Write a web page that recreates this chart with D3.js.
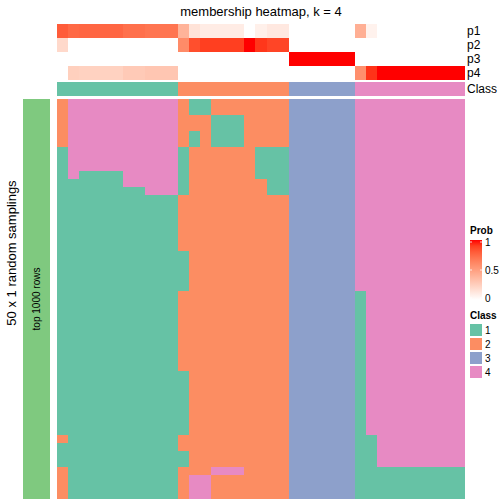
<!DOCTYPE html>
<html><head><meta charset="utf-8">
<script src="https://cdn.jsdelivr.net/npm/d3@7"></script>
<style>body{margin:0;background:#fff}text{font-family:"Liberation Sans",Arial,sans-serif}rect{shape-rendering:crispEdges}</style>
</head><body><svg id="c" width="504" height="504"></svg>
<script>
const classNames = ["1","2","3","4"];
const classColors = ["#66C2A5","#FC8D62","#8DA0CB","#E78AC3"];
const colClass = [1,1,1,1,1,1,1,1,1,1,1, 2,2,2,2,2,2,2,2,2,2, 3,3,3,3,3,3, 4,4,4,4,4,4,4,4,4,4];
const p1 = [0.8,0.75,0.76,0.76,0.76,0.76,0.72,0.72,0.7,0.7,0.7, 0.4,0.15,0.1,0.1,0.1,0.1,0,0.08,0.12,0.12, 0,0,0,0,0,0, 0.42,0.07,0,0,0,0,0,0,0,0];
const p2 = [0.2,0,0,0,0,0,0,0,0,0,0, 0.6,0.85,0.9,0.9,0.9,0.9,1,0.92,0.88,0.88, 0,0,0,0,0,0, 0,0,0,0,0,0,0,0,0,0];
const p3 = [0,0,0,0,0,0,0,0,0,0,0, 0,0,0,0,0,0,0,0,0,0, 1,1,1,1,1,1, 0,0,0,0,0,0,0,0,0,0];
const p4 = [0,0.25,0.24,0.24,0.24,0.24,0.28,0.28,0.3,0.3,0.3, 0,0,0,0,0,0,0,0,0,0, 0,0,0,0,0,0, 0.58,0.93,1,1,1,1,1,1,1,1];
const probRows = ["p1","p2","p3","p4"];
const samplings = [
"24444444444"+"2112222222"+"333333"+"4444444444",
"24444444444"+"2112222222"+"333333"+"4444444444",
"24444444444"+"2221112222"+"333333"+"4444444444",
"24444444444"+"2221112222"+"333333"+"4444444444",
"24444444444"+"2121112222"+"333333"+"4444444444",
"24444444444"+"2121112222"+"333333"+"4444444444",
"14444444444"+"1222222111"+"333333"+"4444444444",
"14444444444"+"1222222111"+"333333"+"4444444444",
"14444444444"+"1222222111"+"333333"+"4444444444",
"14111144444"+"1222222111"+"333333"+"4444444444",
"11111144444"+"1222222211"+"333333"+"4444444444",
"11111111444"+"1222222211"+"333333"+"4444444444",
"11111111111"+"2222222222"+"333333"+"4444444444",
"11111111111"+"2222222222"+"333333"+"4444444444",
"11111111111"+"2222222222"+"333333"+"4444444444",
"11111111111"+"2222222222"+"333333"+"4444444444",
"11111111111"+"2222222222"+"333333"+"4444444444",
"11111111111"+"2222222222"+"333333"+"4444444444",
"11111111111"+"2222222222"+"333333"+"4444444444",
"11111111111"+"1222222222"+"333333"+"4444444444",
"11111111111"+"1222222222"+"333333"+"4444444444",
"11111111111"+"1222222222"+"333333"+"4444444444",
"11111111111"+"1222222222"+"333333"+"4444444444",
"11111111111"+"1222222222"+"333333"+"4444444444",
"11111111111"+"2222222222"+"333333"+"1444444444",
"11111111111"+"2222222222"+"333333"+"1444444444",
"11111111111"+"2222222222"+"333333"+"1444444444",
"11111111111"+"2222222222"+"333333"+"1444444444",
"11111111111"+"2222222222"+"333333"+"1444444444",
"11111111111"+"2222222222"+"333333"+"1444444444",
"11111111111"+"2222222222"+"333333"+"1444444444",
"11111111111"+"2222222222"+"333333"+"1444444444",
"11111111111"+"2222222222"+"333333"+"1444444444",
"11111111111"+"2222222222"+"333333"+"1444444444",
"11111111111"+"1222222222"+"333333"+"1444444444",
"11111111111"+"1222222222"+"333333"+"1444444444",
"11111111111"+"1222222222"+"333333"+"1444444444",
"11111111111"+"1222222222"+"333333"+"1444444444",
"11111111111"+"1222222222"+"333333"+"1444444444",
"11111111111"+"1222222222"+"333333"+"1444444444",
"11111111111"+"1222222222"+"333333"+"1444444444",
"11111111111"+"1222222222"+"333333"+"1444444444",
"21111111111"+"2222222222"+"333333"+"1144444444",
"11111111111"+"2222222222"+"333333"+"1144444444",
"11111111111"+"1222222222"+"333333"+"1144444444",
"11111111111"+"1222222222"+"333333"+"1144444444",
"21111111111"+"2224442222"+"333333"+"1111111111",
"21111111111"+"2442222222"+"333333"+"1111111111",
"21111111111"+"2442222222"+"333333"+"1111111111",
"21111111111"+"2442222222"+"333333"+"1111111111"
];
const legendTicks = [0, 0.5, 1];

const svg = d3.select("#c");
const nCol = colClass.length;
const x = d3.scaleBand().domain(d3.range(nCol)).range([57,465]);
const yP = d3.scaleBand().domain(probRows).range([24,80]);
const yM = d3.scaleBand().domain(d3.range(samplings.length)).range([99,499]);
const probColor = d3.scaleLinear().domain([0,1]).range(["#FFFFFF","#FF0000"]).interpolate(d3.interpolateLab);
const classColor = d3.scaleOrdinal().domain(classNames).range(classColors);
const xw = j => Math.round(x(j)+x.bandwidth()) - Math.round(x(j));

svg.append("text").attr("x",261).attr("y",16).attr("text-anchor","middle").attr("font-size",13).text("membership heatmap, k = 4");

const probData = [p1,p2,p3,p4];
probRows.forEach((r,i)=>{
  svg.append("g").selectAll("rect").data(probData[i]).join("rect")
    .attr("x",(d,j)=>Math.round(x(j))).attr("y",yP(r)).attr("width",(d,j)=>xw(j)).attr("height",yP.bandwidth())
    .attr("fill",d=>probColor(d));
  svg.append("text").attr("x",467).attr("y",yP(r)+yP.bandwidth()/2).attr("dy","0.35em").attr("font-size",12).text(r);
});
svg.append("g").selectAll("rect").data(colClass).join("rect")
  .attr("x",(d,j)=>Math.round(x(j))).attr("y",82).attr("width",(d,j)=>xw(j)).attr("height",14)
  .attr("fill",d=>classColor(String(d)));
svg.append("text").attr("x",467).attr("y",89).attr("dy","0.35em").attr("font-size",12).text("Class");

const cells = [];
samplings.forEach((s,r)=>{ for(let j=0;j<s.length;j++) cells.push({r, c:j, v:s[j]}); });
svg.append("g").selectAll("rect").data(cells).join("rect")
  .attr("x",d=>Math.round(x(d.c))).attr("y",d=>yM(d.r)).attr("width",d=>xw(d.c)).attr("height",yM.bandwidth())
  .attr("fill",d=>classColor(d.v));

svg.append("rect").attr("x",23).attr("y",99).attr("width",27).attr("height",400).attr("fill","#7FC97F");
svg.append("text").attr("transform","translate(40,299) rotate(-90)").attr("text-anchor","middle").attr("font-size",10).text("top 1000 rows");
svg.append("text").attr("transform","translate(16,253) rotate(-90)").attr("text-anchor","middle").attr("font-size",13).text("50 x 1 random samplings");

svg.append("text").attr("x",470).attr("y",234).attr("font-size",10).attr("font-weight","bold").text("Prob");
const defs = svg.append("defs");
const grad = defs.append("linearGradient").attr("id","pg").attr("x1",0).attr("y1",1).attr("x2",0).attr("y2",0);
d3.range(0,1.0001,0.1).forEach(t=>grad.append("stop").attr("offset",t).attr("stop-color",probColor(t)));
const ly = d3.scaleLinear().domain([0,1]).range([298,242]);
svg.append("rect").attr("x",470).attr("y",ly(1)-2).attr("width",12).attr("height",ly(0)-ly(1)+4).attr("fill","url(#pg)");
legendTicks.forEach(t=>{
  svg.append("line").attr("x1",470).attr("x2",472).attr("y1",ly(t)).attr("y2",ly(t)).attr("stroke","#fff").attr("stroke-width",0.8);
  svg.append("line").attr("x1",480).attr("x2",482).attr("y1",ly(t)).attr("y2",ly(t)).attr("stroke","#fff").attr("stroke-width",0.8);
  svg.append("text").attr("x",485).attr("y",ly(t)).attr("dy","0.35em").attr("font-size",10).text(t);
});
svg.append("text").attr("x",470).attr("y",319).attr("font-size",10).attr("font-weight","bold").text("Class");
classNames.forEach((c,i)=>{
  svg.append("rect").attr("x",470).attr("y",324+i*14).attr("width",12).attr("height",12).attr("fill",classColor(c));
  svg.append("text").attr("x",485).attr("y",330+i*14).attr("dy","0.35em").attr("font-size",10).text(c);
});
</script></body></html>
